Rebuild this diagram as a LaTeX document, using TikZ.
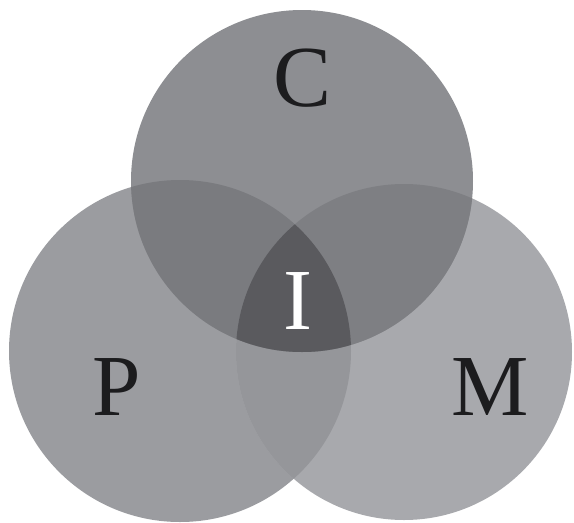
\documentclass[tikz,border=0pt]{standalone}
\usepackage{fontspec}
\setmainfont{Liberation Serif}
\begin{document}
\begin{tikzpicture}[x=1pt,y=-1pt,
  lbl/.style={font=\fontsize{87}{87}\selectfont, inner sep=0pt}]
\definecolor{conly}{HTML}{8D8E92}
\definecolor{ponly}{HTML}{9B9CA0}
\definecolor{monly}{HTML}{A8A9AD}
\definecolor{cpcol}{HTML}{7A7B7F}
\definecolor{cmcol}{HTML}{7E7F83}
\definecolor{pmcol}{HTML}{95969A}
\definecolor{icol}{HTML}{5A5A5E}
\definecolor{ink}{HTML}{1C1C1E}
\useasboundingbox (0,0) rectangle (574,523);
\fill[white] (0,0) rectangle (574,523);
\coordinate (cc) at (302,181);
\coordinate (pc) at (180,351);
\coordinate (mc) at (404,352);
\def\rc{171}\def\rp{171}\def\rm{168}
% single circles
\fill[ponly] (pc) circle[radius=\rp];
\fill[monly] (mc) circle[radius=\rm];
\fill[conly] (cc) circle[radius=\rc];
% pairwise overlaps
\begin{scope}
  \clip (pc) circle[radius=\rp];
  \fill[pmcol] (mc) circle[radius=\rm];
\end{scope}
\begin{scope}
  \clip (cc) circle[radius=\rc];
  \fill[cpcol] (pc) circle[radius=\rp];
\end{scope}
\begin{scope}
  \clip (cc) circle[radius=\rc];
  \fill[cmcol] (mc) circle[radius=\rm];
\end{scope}
% triple overlap
\begin{scope}
  \clip (cc) circle[radius=\rc];
  \clip (pc) circle[radius=\rp];
  \fill[icol] (mc) circle[radius=\rm];
\end{scope}
% labels
\node[lbl, text=ink] (C) at (303,78) {C};
\node[lbl, text=ink] (P) at (117,387) {P};
\node[lbl, text=ink] (M) at (490,387) {M};
\node[lbl, text=white] (I) at (298,301) {I};
\end{tikzpicture}
\end{document}
